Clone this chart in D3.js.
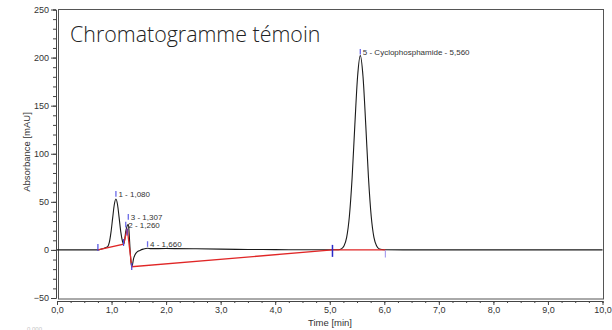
<!DOCTYPE html>
<html>
<head>
<meta charset="utf-8">
<script src="https://cdn.jsdelivr.net/npm/d3@7"></script>
<style>
  body { margin: 0; background: #fff; }
  svg { display: block; }
  .axis text { font-family: "Liberation Sans", Arial, sans-serif; font-size: 9px; fill: #333; }
  .axis path, .axis line { stroke: #444; }
</style>
</head>
<body>
<div id="chart"></div>
<script>
// chromatogram trace (time in min, absorbance in mAU)
const traceTime = [0, 0.5, 0.7, 0.78, 0.85, 0.9, 0.93, 0.96, 0.99, 1.02, 1.05, 1.08, 1.11, 1.14, 1.17, 1.2, 1.22,
  1.24, 1.26, 1.28, 1.295, 1.31, 1.325, 1.34, 1.355, 1.37, 1.385, 1.4, 1.43, 1.47, 1.52, 1.58, 1.66, 1.72,
  2.0, 2.5, 3.0, 3.5, 4.0, 4.5, 5.0, 5.16, 5.21, 5.26, 5.31, 5.36, 5.41, 5.46, 5.51, 5.56, 5.61, 5.66,
  5.71, 5.76, 5.81, 5.86, 5.91, 6.0, 7.0, 8.0, 9.0, 10.0];
const traceAbs = [0, 0, 0, 0.3, 1.5, 2.5, 3.5, 8, 18.5, 33, 47, 53, 47, 33, 18.5, 9, 6,
  10, 19, 24, 26, 26.5, 15, 0, -12, -17.5, -15, -10, -5, -2, -0.5, 0.8, 1.8, 1.3,
  1.4, 1.2, 0.8, 0.5, 0.3, 0.2, 0.1, 0.2, 1, 4, 13, 35, 75, 130, 180, 202, 180, 130,
  75, 35, 13, 4, 1, 0.2, 0, 0, 0, 0];

// integration baseline (red)
const baseTime = [0.75, 1.22, 1.288, 1.37, 5.05, 6.02];
const baseAbs = [0, 6, 22, -17.5, 0, 0];

// peak labels
const peakTime = [1.08, 1.26, 1.307, 1.66, 5.56];
const peakLabelAbs = [58.3, 26.3, 34.4, 6.1, 206.1];
const peakLabels = ["1 - 1,080", "2 - 1,260", "3 - 1,307", "4 - 1,660", "5 - Cyclophosphamide - 5,560"];

// start / end marks of the integration
const markTime = [0.75, 1.22, 1.285, 1.37, 5.05, 6.02];
const markAbs = [2.5, 7.7, 18.6, -17.3, -1, -4.3];

const xTicks = [0, 1, 2, 3, 4, 5, 6, 7, 8, 9, 10];
const xTickLabels = ["0,0", "1,0", "2,0", "3,0", "4,0", "5,0", "6,0", "7,0", "8,0", "9,0", "10,0"];
const yTicks = [-50, 0, 50, 100, 150, 200, 250];

const width = 612, height = 330;
const svg = d3.select("#chart").append("svg")
  .attr("width", width)
  .attr("height", height);

const x = d3.scaleLinear().domain([0, 10]).range([57, 602.5]);
const y = d3.scaleLinear().domain([-50, 250]).range([298, 9.5]);

// frame
svg.append("rect")
  .attr("x", 58.5).attr("y", 9.5)
  .attr("width", 545).attr("height", 289.5)
  .attr("fill", "none").attr("stroke", "#555").attr("stroke-width", 1);

// y axis
const yAxis = svg.append("g").attr("class", "axis")
  .attr("transform", "translate(56,0)");
yAxis.call(d3.axisLeft(y).tickValues(d3.range(-50, 251, 10)).tickSize(3).tickFormat(""));
yAxis.append("g").call(d3.axisLeft(y).tickValues(yTicks).tickSize(5).tickPadding(2))
  .select(".domain").remove();

// x axis
const xAxis = svg.append("g").attr("class", "axis")
  .attr("transform", "translate(0,301)");
xAxis.call(d3.axisBottom(x).tickValues(d3.range(0, 10.01, 0.25)).tickSize(2).tickFormat(""));
xAxis.append("g").call(d3.axisBottom(x).tickValues(xTicks).tickSize(4).tickPadding(2)
    .tickFormat((d, i) => xTickLabels[i]))
  .select(".domain").remove();

svg.append("text")
  .attr("x", 330).attr("y", 326)
  .attr("text-anchor", "middle")
  .style("font-family", "Liberation Sans, Arial, sans-serif").style("font-size", "9.5px").style("fill", "#333")
  .text("Time [min]");

svg.append("text")
  .attr("transform", "translate(30,152) rotate(-90)")
  .attr("text-anchor", "middle")
  .style("font-family", "Liberation Sans, Arial, sans-serif").style("font-size", "9.5px").style("fill", "#333")
  .text("Absorbance [mAU]");

// trace
const trace = traceTime.map((t, i) => [t, traceAbs[i]]);
svg.append("path")
  .datum(trace)
  .attr("fill", "none")
  .attr("stroke", "#1a1a1a")
  .attr("stroke-width", 1.1)
  .attr("d", d3.line().x(d => x(d[0])).y(d => y(d[1])).curve(d3.curveMonotoneX));

// baseline
svg.append("path")
  .datum(baseTime.map((t, i) => [t, baseAbs[i]]))
  .attr("fill", "none")
  .attr("stroke", "#e02626")
  .attr("stroke-width", 1.3)
  .attr("d", d3.line().x(d => x(d[0])).y(d => y(d[1])));

// integration marks
svg.selectAll(".mark")
  .data(markTime.map((t, i) => [t, markAbs[i], i]))
  .enter().append("line")
  .attr("class", "mark")
  .attr("x1", d => x(d[0])).attr("x2", d => x(d[0]))
  .attr("y1", d => y(d[1]) - (d[2] == 4 ? 6 : 3.5))
  .attr("y2", d => y(d[1]) + (d[2] == 4 ? 6 : 3.5))
  .attr("stroke", d => d[2] == 5 ? "#a9a0f0" : (d[2] == 4 ? "#2a2ac8" : "#4a4ae0"))
  .attr("stroke-width", d => d[2] == 4 ? 1.5 : 1.2);

// peak markers + labels
const peaks = svg.selectAll(".peak")
  .data(peakTime.map((t, i) => ({ t: t, v: peakLabelAbs[i], label: peakLabels[i] })))
  .enter().append("g")
  .attr("class", "peak")
  .attr("transform", d => `translate(${x(d.t)},${y(d.v)})`);
peaks.append("line")
  .attr("y1", -2.8).attr("y2", 2.8)
  .attr("stroke", "#6a6ae8").attr("stroke-width", 1.3);
peaks.append("text")
  .attr("x", 2.5).attr("y", 3)
  .style("font-family", "Liberation Sans, Arial, sans-serif").style("font-size", "8px").style("fill", "#333")
  .text(d => d.label);

// title
svg.append("text")
  .attr("x", 70).attr("y", 41.5)
  .style("font-family", "Open Sans, sans-serif").style("font-weight", 300)
  .style("font-size", "21.4px").style("fill", "#222")
  .text("Chromatogramme témoin");

svg.append("text")
  .attr("x", 27).attr("y", 331)
  .style("font-family", "Liberation Sans, Arial, sans-serif").style("font-size", "6px").style("fill", "#c4c4c4")
  .text("0,000");
</script>
</body>
</html>
